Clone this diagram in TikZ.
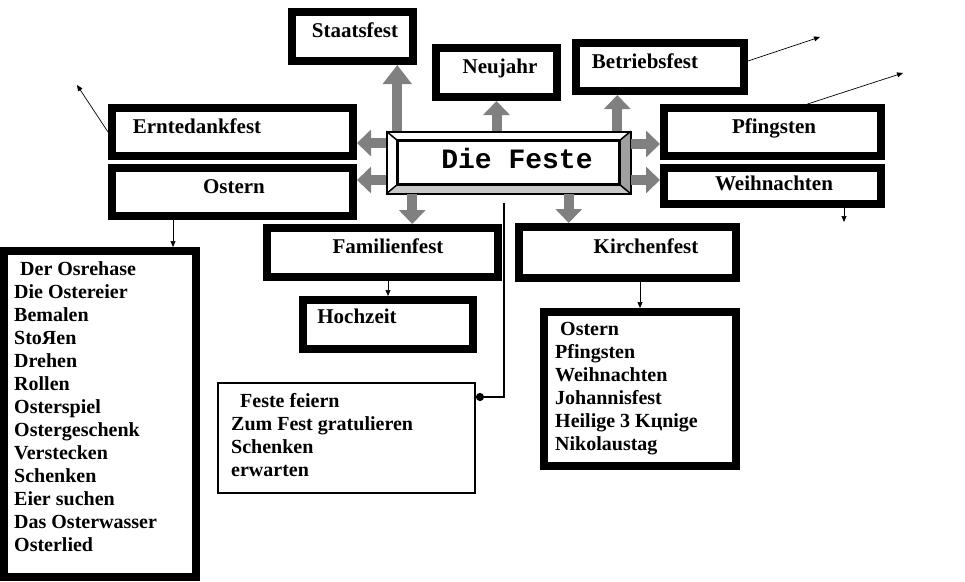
\documentclass[tikz,border=0pt]{standalone}
\usepackage{fontspec}
\setmainfont{Liberation Serif}
\setmonofont{Liberation Mono}
\usetikzlibrary{arrows.meta}

\definecolor{pfeilgrau}{RGB}{128,128,128}
\definecolor{kantehell}{RGB}{200,200,200}
\definecolor{kantedunkel}{RGB}{160,160,160}

\begin{document}
\begin{tikzpicture}[x=1pt, y=-1pt,
  festbox/.style={draw=black, line width=8pt, fill=white, inner sep=0pt},
  festtext/.style={font=\bfseries\fontsize{21}{23}\selectfont, inner sep=0pt, anchor=base},
  listtext/.style={font=\bfseries\fontsize{20}{23}\selectfont, inner sep=0pt, anchor=base west},
  blockarrow/.style={draw=pfeilgrau, line width=10pt, -{Triangle[width=26pt,length=14pt]}},
  thinarrow/.style={draw=black, line width=0.7pt, -{Triangle[width=5pt,length=6pt]}}]
  \useasboundingbox (0,0) rectangle (965,581);

  \node[festbox, minimum width=121pt, minimum height=49pt] (staat) at (352.5,36.5) {};
  \node[festbox, minimum width=121pt, minimum height=49pt] (neu) at (496.5,72.5) {};
  \node[festbox, minimum width=168pt, minimum height=48pt] (betr) at (660,67) {};
  \node[festbox, minimum width=241pt, minimum height=48pt] (ernte) at (232.5,132) {};
  \node[festbox, minimum width=241pt, minimum height=48pt] (ostern) at (232.5,192) {};
  \node[festbox, minimum width=217pt, minimum height=48pt] (pfing) at (772.5,132) {};
  \node[festbox, minimum width=217pt, minimum height=36pt] (weih) at (772.5,186) {};
  \node[festbox, minimum width=231pt, minimum height=49pt] (famil) at (382.5,252.5) {};
  \node[festbox, minimum width=217pt, minimum height=51pt] (kirch) at (627.5,252.5) {};
  \node[festbox, minimum width=170pt, minimum height=49pt] (hoch) at (388,324.5) {};
  \node[festbox, minimum width=192pt, minimum height=326pt] (olist) at (100,414) {};
  \node[festbox, minimum width=192pt, minimum height=154pt] (klist) at (640,389) {};
  \node[draw=black, line width=2pt, inner sep=0pt, minimum width=257pt, minimum height=110pt] (feiern) at (346.5,438) {};

  \node[festtext] (staat-t) at (355,37) {Staatsfest};
  \node[festtext] (neu-t) at (500,73) {Neujahr};
  \node[festtext] (betr-t) at (645,68) {Betriebsfest};
  \node[festtext] (ernte-t) at (197,133) {Erntedankfest};
  \node[festtext] (ostern-t) at (234,193) {Ostern};
  \node[festtext] (pfing-t) at (774,133) {Pfingsten};
  \node[festtext] (weih-t) at (774,190) {Weihnachten};
  \node[festtext] (famil-t) at (388,253) {Familienfest};
  \node[festtext] (kirch-t) at (646,253) {Kirchenfest};
  \node[festtext] (hoch-t) at (357,323) {Hochzeit};

  \node[listtext] (ol-0) at (20,275) {Der Osrehase};
  \foreach \w [count=\i] in {Die Ostereier, Bemalen, StoЯen, Drehen, Rollen, Osterspiel,
      Ostergeschenk, Verstecken, Schenken, Eier suchen, Das Osterwasser, Osterlied}
    \node[listtext] (ol-\i) at (14,275+23*\i) {\w};

  \node[listtext] (kl-0) at (560,335) {Ostern};
  \foreach \w [count=\i] in {Pfingsten, Weihnachten, Johannisfest, Heilige 3 Kцnige, Nikolaustag}
    \node[listtext] (kl-\i) at (555,335+23*\i) {\w};

  \node[listtext] (fe-0) at (240,407) {Feste feiern};
  \foreach \w [count=\i] in {Zum Fest gratulieren, Schenken, erwarten}
    \node[listtext] (fe-\i) at (231,407+23*\i) {\w};

  \node[draw=black, line width=1.5pt, fill=white, inner sep=0pt, minimum width=243pt, minimum height=61pt] (feste) at (508.5,162.5) {};
  \node[inner sep=0pt, minimum width=221pt, minimum height=43pt] (feste-innen) at (508.5,162.5) {};
  \fill[kantehell] (feste.south west) -- (feste.south east) -- (feste-innen.south east) -- (feste-innen.south west) -- cycle;
  \fill[kantedunkel] (feste.south east) -- (feste.north east) -- (feste-innen.north east) -- (feste-innen.south east) -- cycle;
  \draw[line width=1.5pt] (feste.north west) -- (feste-innen.north west);
  \draw[line width=1.5pt] (feste.north east) -- (feste-innen.north east);
  \draw[line width=1.5pt] (feste.south west) -- (feste-innen.south west);
  \draw[line width=1.5pt] (feste.south east) -- (feste-innen.south east);
  \draw[line width=1.5pt] (feste.south west) rectangle (feste.north east);
  \draw[line width=3pt] (feste-innen.south west) rectangle (feste-innen.north east);
  \node[font=\ttfamily\bfseries\fontsize{28}{28}\selectfont, inner sep=0pt, anchor=base] (feste-t) at (517,168) {Die Feste};

  \coordinate (pf-staat) at ([xshift=11pt]feste.north west);
  \coordinate (pf-betr) at ([xshift=-13.5pt]feste.north east);
  \coordinate (pf-ernte) at ([yshift=19.5pt]feste.west);
  \coordinate (pf-ostern) at ([yshift=-17.5pt]feste.west);
  \coordinate (pf-pfing) at ([yshift=18.5pt]feste.east);
  \coordinate (pf-weih) at ([yshift=-17.5pt]feste.east);
  \coordinate (pf-famil) at ([xshift=26pt]feste.south west);
  \coordinate (pf-kirch) at ([xshift=-62pt]feste.south east);
  \draw[blockarrow, -{Triangle[width=28pt,length=19pt]}] (pf-staat) -- (pf-staat |- staat.south);
  \draw[blockarrow] (feste.north -| neu.south) -- (neu.south);
  \draw[blockarrow] (pf-betr) -- (pf-betr |- betr.south);
  \draw[blockarrow] (pf-ernte) -- (pf-ernte -| ernte.east);
  \draw[blockarrow] (pf-ostern) -- (pf-ostern -| ostern.east);
  \draw[blockarrow] (pf-pfing) -- (pf-pfing -| pfing.west);
  \draw[blockarrow] (pf-weih) -- (pf-weih -| weih.west);
  \draw[blockarrow] (pf-famil) -- (pf-famil |- famil.north);
  \draw[blockarrow] (pf-kirch) -- (pf-kirch |- kirch.north);

  \coordinate (ernte-hin) at (77,85);
  \coordinate (betr-hin) at (820,37);
  \coordinate (pfing-hin) at (903,73);
  \coordinate (weih-ab) at ([xshift=71.5pt]weih.south);
  \coordinate (ostern-ab) at ([xshift=-59.5pt]ostern.south);
  \draw[thinarrow] (ernte.west) -- (ernte-hin);
  \draw[thinarrow] ([yshift=6pt]betr.east) -- (betr-hin);
  \draw[thinarrow] ([xshift=35pt]pfing.north) -- (pfing-hin);
  \draw[thinarrow] (weih-ab) -- ++(0,14);
  \draw[thinarrow] (ostern-ab) -- (ostern-ab |- olist.north);
  \draw[thinarrow] (famil.south -| hoch.north) -- (hoch.north);
  \draw[thinarrow] (kirch.south -| klist.north) -- (klist.north);

  \coordinate (feste-ab) at ([xshift=-4.5pt,yshift=-9pt]feste.south);
  \draw[line width=2.5pt, -{Circle[length=8pt]}] (feste-ab) |- ([yshift=41pt]feiern.east);
\end{tikzpicture}
\end{document}
